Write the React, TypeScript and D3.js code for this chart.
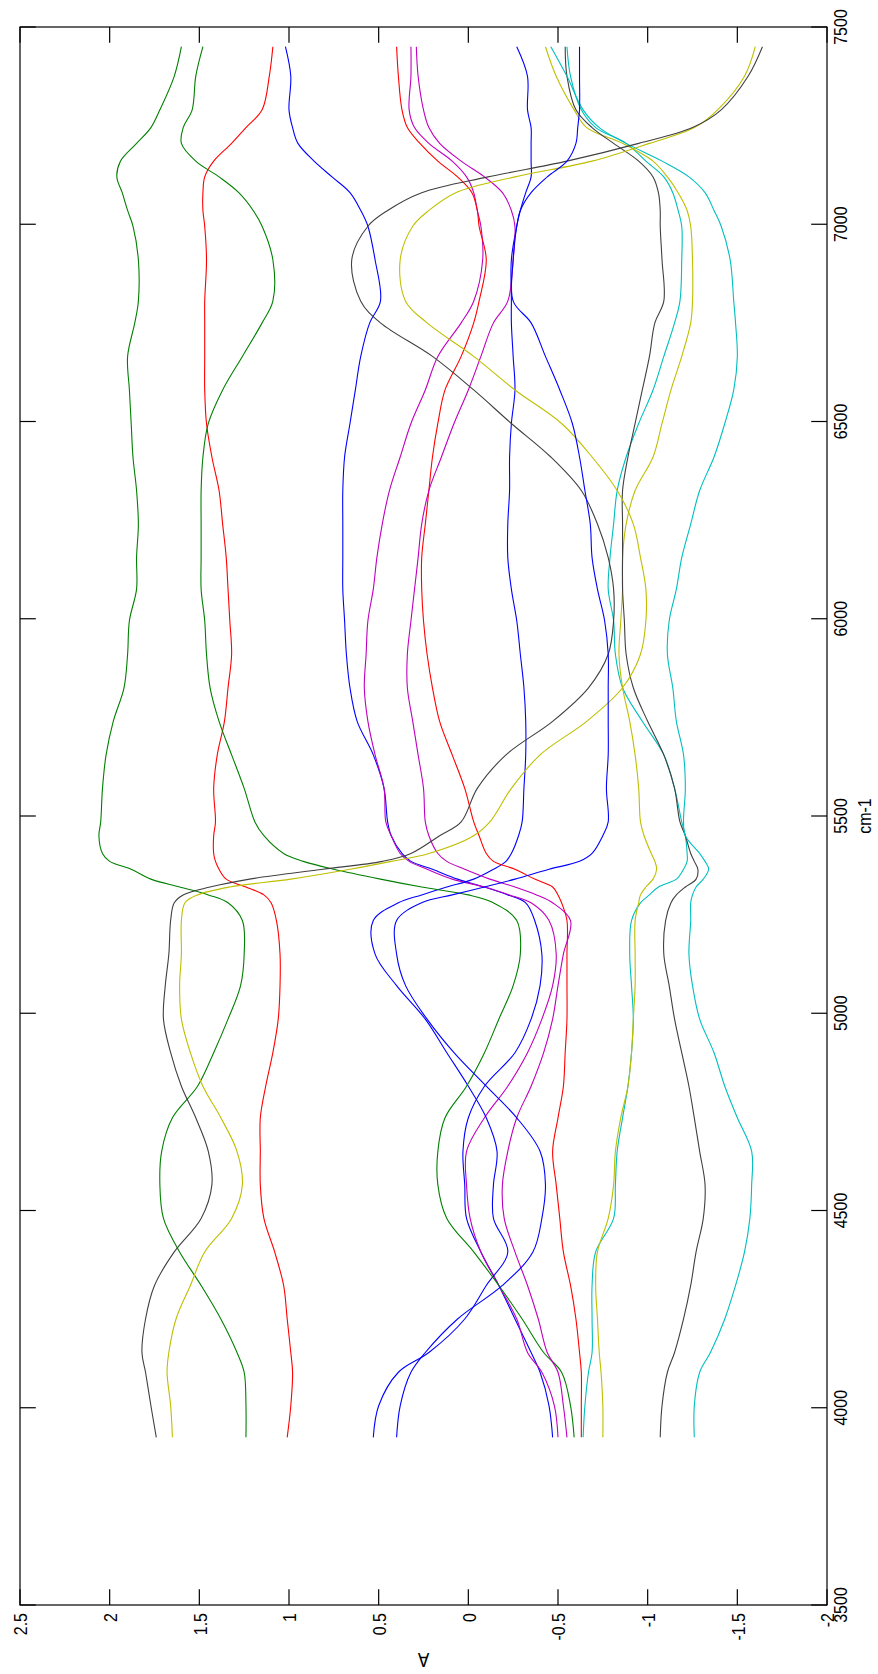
import React from 'react';
import * as d3 from 'd3';

// Wavenumber grid (cm-1) shared by all spectra
const WAVENUMBERS = [
  7450, 7375, 7290, 7245, 7205, 7160, 7120, 7080, 7035, 6995, 6910, 6805,
  6750, 6665, 6580, 6495, 6410, 6325, 6240, 6155,
  6075, 5995, 5910, 5825, 5740, 5655, 5570, 5485,
  5450, 5405, 5385, 5365, 5340, 5320, 5300, 5280, 5235, 5150, 5070, 4985, 4900, 4815,
  4735, 4650, 4565, 4480, 4395, 4310, 4225, 4140,
  4090, 4005, 3925,
];

// Absorbance of each spectrum at the wavenumbers above
const spectrum01 = [
  1.02, 0.99, 1.0, 0.98, 0.95, 0.86, 0.76, 0.66, 0.6, 0.56, 0.52, 0.49,
  0.55, 0.6, 0.63, 0.66, 0.69, 0.7, 0.7, 0.7,
  0.7, 0.69, 0.68, 0.66, 0.62, 0.53, 0.47, 0.45,
  0.43, 0.37, 0.32, 0.2, 0.06, -0.09, -0.22, -0.32, -0.37, -0.41, -0.4, -0.35, -0.26, -0.09,
  0.0, 0.03, 0.02, 0.01, -0.07, -0.17, -0.26, -0.35,
  -0.4, -0.45, -0.47,
];
const spectrum02 = [
  1.6, 1.64, 1.72, 1.77, 1.85, 1.94, 1.96, 1.93, 1.9, 1.87, 1.84, 1.84,
  1.86, 1.9, 1.89, 1.88, 1.87, 1.85, 1.84, 1.85,
  1.85, 1.89, 1.9, 1.92, 1.98, 2.02, 2.04, 2.05,
  2.06, 2.04, 2.0, 1.88, 1.77, 1.61, 1.45, 1.34, 1.26, 1.25, 1.27, 1.34, 1.42, 1.51,
  1.65, 1.71, 1.72, 1.7, 1.61, 1.49, 1.38, 1.29,
  1.25, 1.24, 1.24,
];
const spectrum03 = [
  1.09, 1.11, 1.15, 1.24, 1.32, 1.42, 1.47, 1.48, 1.48, 1.47, 1.46, 1.47,
  1.47, 1.47, 1.47, 1.46, 1.43, 1.39, 1.37, 1.35,
  1.34, 1.33, 1.32, 1.34, 1.36, 1.4, 1.42, 1.41,
  1.42, 1.42, 1.41, 1.39, 1.35, 1.24, 1.14, 1.1, 1.07, 1.05, 1.05, 1.06, 1.09, 1.13,
  1.16, 1.16, 1.16, 1.14, 1.08, 1.03, 1.01, 0.99,
  0.98, 0.99, 1.01,
];
const spectrum04 = [
  -0.55, -0.57, -0.63, -0.71, -0.88, -0.99, -1.09, -1.14, -1.17, -1.19, -1.19, -1.18,
  -1.15, -1.09, -1.03, -0.95, -0.88, -0.83, -0.81, -0.79,
  -0.78, -0.81, -0.82, -0.86, -0.97, -1.09, -1.15, -1.19,
  -1.21, -1.22, -1.22, -1.2, -1.16, -1.06, -1.01, -0.96, -0.91, -0.9, -0.91, -0.92, -0.91, -0.89,
  -0.86, -0.83, -0.82, -0.81, -0.71, -0.69, -0.69, -0.69,
  -0.67, -0.65, -0.64,
];
const spectrum05 = [
  0.32, 0.32, 0.33, 0.3, 0.22, 0.09, 0.01, -0.03, -0.05, -0.07, -0.08, -0.03,
  0.04, 0.17, 0.24, 0.32, 0.38, 0.44, 0.48, 0.51,
  0.53, 0.56, 0.57, 0.58, 0.56, 0.52, 0.47, 0.46,
  0.43, 0.38, 0.33, 0.23, 0.09, -0.09, -0.23, -0.35, -0.45, -0.49, -0.47, -0.41, -0.33, -0.22,
  -0.09, 0.01, 0.01, -0.01, -0.07, -0.17, -0.27, -0.33,
  -0.41, -0.48, -0.5,
];
const spectrum06 = [
  -0.43, -0.49, -0.59, -0.66, -0.86, -1.03, -1.11, -1.17, -1.22, -1.24, -1.25, -1.25,
  -1.24, -1.19, -1.13, -1.08, -1.03, -0.93, -0.88, -0.86,
  -0.86, -0.85, -0.84, -0.86, -0.9, -0.93, -0.95, -0.96,
  -0.98, -1.02, -1.04, -1.05, -1.03, -0.99, -0.96, -0.95, -0.93, -0.93, -0.93, -0.92, -0.91, -0.89,
  -0.85, -0.82, -0.81, -0.78, -0.72, -0.71, -0.72, -0.73,
  -0.74, -0.75, -0.75,
];
const spectrum07 = [
  -0.54, -0.55, -0.6, -0.69, -0.81, -0.95, -1.03, -1.06, -1.07, -1.07, -1.08, -1.09,
  -1.04, -1.01, -0.97, -0.93, -0.89, -0.86, -0.86, -0.86,
  -0.86, -0.87, -0.88, -0.92, -1.0, -1.09, -1.15, -1.18,
  -1.21, -1.24, -1.26, -1.28, -1.27, -1.21, -1.16, -1.13, -1.1, -1.09, -1.12, -1.15, -1.19, -1.23,
  -1.26, -1.29, -1.32, -1.31, -1.27, -1.24, -1.2, -1.15,
  -1.11, -1.08, -1.07,
];
const spectrum08 = [
  -0.27, -0.33, -0.33, -0.35, -0.35, -0.35, -0.35, -0.32, -0.29, -0.27, -0.24, -0.24,
  -0.24, -0.25, -0.26, -0.24, -0.23, -0.23, -0.22, -0.22,
  -0.24, -0.27, -0.29, -0.31, -0.32, -0.32, -0.31, -0.3,
  -0.28, -0.24, -0.21, -0.14, -0.03, 0.12, 0.26, 0.39, 0.53, 0.52, 0.4, 0.24, 0.12, 0.0,
  -0.1, -0.16, -0.14, -0.14, -0.22, -0.1, 0.02, 0.22,
  0.39, 0.5, 0.53,
];
const spectrum09 = [
  1.48, 1.52, 1.54, 1.59, 1.6, 1.52, 1.39, 1.28, 1.2, 1.15, 1.09, 1.09,
  1.15, 1.26, 1.37, 1.45, 1.48, 1.49, 1.49, 1.49,
  1.49, 1.47, 1.46, 1.44, 1.39, 1.32, 1.25, 1.19,
  1.14, 1.03, 0.92, 0.75, 0.49, 0.26, 0.0, -0.14, -0.27, -0.29, -0.25, -0.17, -0.09, 0.01,
  0.13, 0.17, 0.17, 0.12, -0.03, -0.17, -0.3, -0.42,
  -0.52, -0.57, -0.59,
];
const spectrum10 = [
  0.4, 0.39, 0.37, 0.34, 0.27, 0.17, 0.06, -0.02, -0.05, -0.06, -0.1, -0.06,
  -0.03, 0.04, 0.13, 0.17, 0.2, 0.22, 0.24, 0.26,
  0.26, 0.25, 0.23, 0.2, 0.16, 0.09, 0.02, -0.03,
  -0.06, -0.1, -0.14, -0.26, -0.37, -0.47, -0.5, -0.52, -0.55, -0.55, -0.55, -0.55, -0.54, -0.53,
  -0.5, -0.47, -0.49, -0.51, -0.53, -0.57, -0.6, -0.62,
  -0.63, -0.63, -0.63,
];
const spectrum11 = [
  -0.46, -0.55, -0.64, -0.73, -0.88, -1.08, -1.23, -1.32, -1.37, -1.41, -1.46, -1.48,
  -1.49, -1.5, -1.48, -1.43, -1.37, -1.29, -1.24, -1.19,
  -1.16, -1.12, -1.11, -1.14, -1.16, -1.2, -1.21, -1.2,
  -1.21, -1.29, -1.32, -1.34, -1.31, -1.27, -1.25, -1.24, -1.24, -1.23, -1.25, -1.29, -1.37, -1.43,
  -1.5, -1.58, -1.58, -1.57, -1.54, -1.49, -1.43, -1.35,
  -1.29, -1.26, -1.26,
];
const spectrum12 = [
  0.29, 0.28, 0.25, 0.22, 0.16, 0.04, -0.09, -0.19, -0.24, -0.26, -0.25, -0.22,
  -0.14, -0.07, 0.0, 0.08, 0.15, 0.22, 0.26, 0.28,
  0.3, 0.32, 0.34, 0.34, 0.31, 0.28, 0.25, 0.24,
  0.22, 0.17, 0.12, 0.02, -0.12, -0.26, -0.38, -0.47, -0.57, -0.53, -0.5, -0.47, -0.42, -0.35,
  -0.27, -0.22, -0.19, -0.2, -0.26, -0.33, -0.39, -0.44,
  -0.5, -0.53, -0.55,
];
const spectrum13 = [
  -1.6, -1.54, -1.39, -1.26, -1.01, -0.69, -0.26, 0.07, 0.22, 0.31, 0.38, 0.35,
  0.23, -0.03, -0.26, -0.52, -0.69, -0.83, -0.92, -0.96,
  -0.99, -0.99, -0.96, -0.86, -0.66, -0.4, -0.24, -0.12,
  -0.03, 0.22, 0.43, 0.66, 0.99, 1.33, 1.51, 1.58, 1.6, 1.6, 1.61, 1.6, 1.55, 1.48,
  1.38, 1.29, 1.26, 1.32, 1.47, 1.55, 1.63, 1.67,
  1.68, 1.66, 1.65,
];
const spectrum14 = [
  -1.64, -1.56, -1.41, -1.25, -0.95, -0.55, -0.11, 0.26, 0.45, 0.56, 0.65, 0.6,
  0.49, 0.2, -0.03, -0.24, -0.46, -0.63, -0.72, -0.78,
  -0.81, -0.81, -0.78, -0.67, -0.47, -0.21, -0.05, 0.04,
  0.16, 0.32, 0.48, 0.81, 1.22, 1.44, 1.59, 1.64, 1.66, 1.67, 1.69, 1.7, 1.66, 1.6,
  1.52, 1.45, 1.43, 1.49, 1.64, 1.75, 1.8, 1.82,
  1.8, 1.77, 1.74,
];
const spectrum15 = [
  -0.62, -0.62, -0.62, -0.61, -0.6, -0.55, -0.44, -0.35, -0.29, -0.27, -0.25, -0.25,
  -0.35, -0.43, -0.51, -0.58, -0.62, -0.65, -0.68, -0.69,
  -0.72, -0.76, -0.78, -0.78, -0.78, -0.78, -0.77, -0.78,
  -0.75, -0.69, -0.62, -0.45, -0.26, -0.09, 0.09, 0.26, 0.4, 0.4, 0.35, 0.23, 0.08, -0.1,
  -0.27, -0.4, -0.43, -0.41, -0.36, -0.19, 0.06, 0.24,
  0.32, 0.38, 0.4,
];

const SPECTRA = [
  spectrum01, spectrum02, spectrum03, spectrum04, spectrum05,
  spectrum06, spectrum07, spectrum08, spectrum09, spectrum10,
  spectrum11, spectrum12, spectrum13, spectrum14, spectrum15,
];

// Classic line colour cycle: b g r c m y k
const COLOR_CYCLE = ['#0000ff', '#008000', '#ff0000', '#00bfbf', '#bf00bf', '#bfbf00', '#404040'];

const ABS_TICKS = [2.5, 2, 1.5, 1, 0.5, 0, -0.5, -1, -1.5, -2];
const WN_TICKS = [3500, 4000, 4500, 5000, 5500, 6000, 6500, 7000, 7500];

const FONT = '"Liberation Sans", Arial, Helvetica, sans-serif';

export default function App() {
  const W = 878;
  const H = 1674;
  const left = 20;
  const right = 827;
  const top = 27;
  const bottom = 1605;
  const tickLen = 15.8;

  // Absorbance runs horizontally (2.5 at left), wavenumber vertically (7500 at top)
  const aScale = d3.scaleLinear().domain([2.5, -2]).range([left, right]);
  const wScale = d3.scaleLinear().domain([7500, 3500]).range([top, bottom]);

  const line = d3
    .line<[number, number]>()
    .x((d) => aScale(d[1]))
    .y((d) => wScale(d[0]))
    .curve(d3.curveCatmullRom.alpha(0.5));

  const tickFont = 16;

  return (
    <svg
      width={W}
      height={H}
      viewBox={`0 0 ${W} ${H}`}
      style={{ position: 'absolute', left: 0, top: 0, background: '#fff' }}
    >
      <rect x={0} y={0} width={W} height={H} fill="#fff" />

      {/* spectra */}
      <g fill="none" strokeWidth={1.1} strokeLinejoin="round">
        {SPECTRA.map((vals, i) => (
          <path
            key={i}
            d={line(WAVENUMBERS.map((w, j) => [w, vals[j]] as [number, number])) || ''}
            stroke={COLOR_CYCLE[i % COLOR_CYCLE.length]}
          />
        ))}
      </g>

      {/* frame */}
      <rect
        x={left}
        y={top}
        width={right - left}
        height={bottom - top}
        fill="none"
        stroke="#000"
        strokeWidth={1.2}
      />

      {/* ticks on all four edges, pointing inward */}
      <g stroke="#000" strokeWidth={1.2}>
        {ABS_TICKS.map((v) => (
          <g key={v}>
            <line x1={aScale(v)} x2={aScale(v)} y1={bottom} y2={bottom - tickLen} />
            <line x1={aScale(v)} x2={aScale(v)} y1={top} y2={top + tickLen} />
          </g>
        ))}
        {WN_TICKS.map((v) => (
          <g key={v}>
            <line x1={right} x2={right - tickLen} y1={wScale(v)} y2={wScale(v)} />
            <line x1={left} x2={left + tickLen} y1={wScale(v)} y2={wScale(v)} />
          </g>
        ))}
      </g>

      {/* absorbance tick labels */}
      <g fontFamily={FONT} fontSize={tickFont} fill="#000">
        {ABS_TICKS.map((v) => (
          <text
            key={v}
            transform={`translate(${aScale(v) + 1},${bottom + 8}) rotate(-90) scale(1,1.15)`}
            textAnchor="end"
            dominantBaseline="central"
          >
            {String(v)}
          </text>
        ))}
      </g>

      {/* wavenumber tick labels */}
      <g fontFamily={FONT} fontSize={tickFont} fill="#000">
        {WN_TICKS.map((v) => (
          <text
            key={v}
            transform={`translate(${right + 20},${wScale(v)}) rotate(-90) scale(1,1.15)`}
            textAnchor="middle"
          >
            {String(v)}
          </text>
        ))}
      </g>

      {/* axis titles */}
      <text
        transform={`translate(${right + 44},${(top + bottom) / 2}) rotate(-90) scale(1,1.15)`}
        textAnchor="middle"
        fontFamily={FONT}
        fontSize={tickFont}
        fill="#000"
      >
        cm-1
      </text>
      <text
        transform={`translate(${(left + right) / 2},${H - 21}) rotate(180) scale(1,1.15)`}
        textAnchor="middle"
        fontFamily={FONT}
        fontSize={tickFont + 1}
        fill="#000"
      >
        A
      </text>
    </svg>
  );
}
